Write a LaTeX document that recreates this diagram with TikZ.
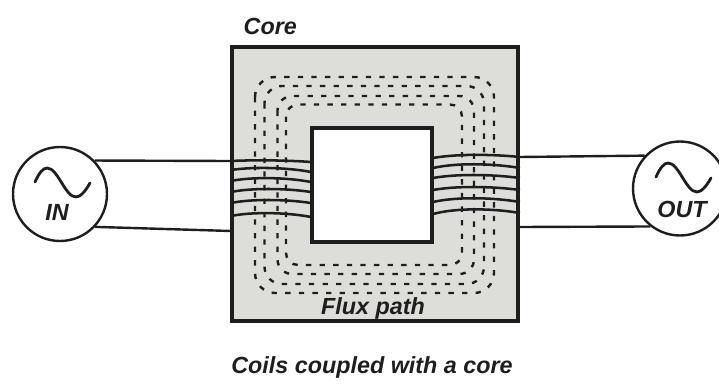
\documentclass[tikz,border=0pt]{standalone}
\usepackage{fontspec}
\setmainfont{Liberation Sans}
\usetikzlibrary{positioning,calc}
\definecolor{cCore}{HTML}{DDDDD9}
\definecolor{cInk}{HTML}{1E1E1E}
\begin{document}
\begin{tikzpicture}[
  x=0.75pt, y=-0.75pt,
  font=\bfseries\itshape,
  ink/.style={text=cInk, font=\bfseries\itshape\fontsize{17.5}{17.5}\selectfont},
  coreblock/.style={draw=cInk, line width=3pt, fill=cCore, minimum width=214.5pt, minimum height=205.5pt, inner sep=0pt},
  windowblock/.style={draw=cInk, line width=3pt, fill=white, minimum width=90pt, minimum height=85.5pt, inner sep=0pt},
  source/.style={circle, draw=cInk, line width=1.8pt, fill=white, minimum size=70.5pt, inner sep=0pt},
  wire/.style={draw=cInk, line width=1.8pt},
  turn/.style={draw=cInk, line width=1.9pt},
  flux/.style={draw=cInk, line width=1.8pt, dash pattern=on 4pt off 6.2pt},
  sinewave/.pic={\draw[cInk, line width=2.1pt, line cap=round]
    (-25,-12) .. controls (-21,-21) and (-17,-26) .. (-13,-26)
    .. controls (-2,-26) and (5,3) .. (16,3)
    .. controls (21,3) and (26,-4) .. (30,-11);}]
\useasboundingbox (0,0) rectangle (719,383);

% ---------- core ----------
\node[coreblock] (core) at (375,183.5) {};
\node[windowblock] (window) at (372,185) {};

% ---------- flux paths ----------
\draw[flux, rounded corners=15pt] (255,77) rectangle (494,293);
\draw[flux, rounded corners=13pt] (264.5,86) rectangle (484,284);
\draw[flux, rounded corners=11pt] (277.5,96) rectangle (474,274);
\draw[flux, rounded corners=9pt] (286,104.5) rectangle (462,265);

% ---------- sources ----------
\node[source] (in) at (60,194) {};
\node[source] (out) at (680,188.5) {};
\pic at (60,194) {sinewave};
\pic at (681,189) {sinewave};
\node[ink] (inText) at (57,212) {IN};
\node[ink] (outText) at (682,209) {OUT};

% ---------- coil ends ----------
\coordinate (inTop) at (231,161);
\coordinate (inBot) at (231,231);
\coordinate (outTop) at (519,157);
\coordinate (outBot) at (519,227);
\draw[wire] (in.44) -- (inTop);
\draw[wire] (in.-43) -- (inBot);
\draw[wire] (outTop) -- (out.137);
\draw[wire] (outBot) -- (out.-128);

% ---------- turns ----------
\foreach \yl/\ym/\yr in {161/160/162, 170/167/172, 181/177/182, 192/188/192, 203/199/203, 216/212/217}
  \draw[turn] (231,\yl) .. controls (250,\ym) and (285,\ym) .. (311,\yr);
\foreach \yl/\ym/\yr in {158/154/157, 168/163/168, 178/174/178, 190/186/190, 202/197/202, 214/208/213}
  \draw[turn] (433,\yl) .. controls (455,\ym) and (490,\ym) .. (520,\yr);

% ---------- labels ----------
\node[ink, anchor=west] (coreText) at (239,26) {Core};
\node[ink] (fluxText) at (373,308) {Flux path};
\node[ink] (caption) at (372,367) {Coils coupled with a core};
\end{tikzpicture}
\end{document}
